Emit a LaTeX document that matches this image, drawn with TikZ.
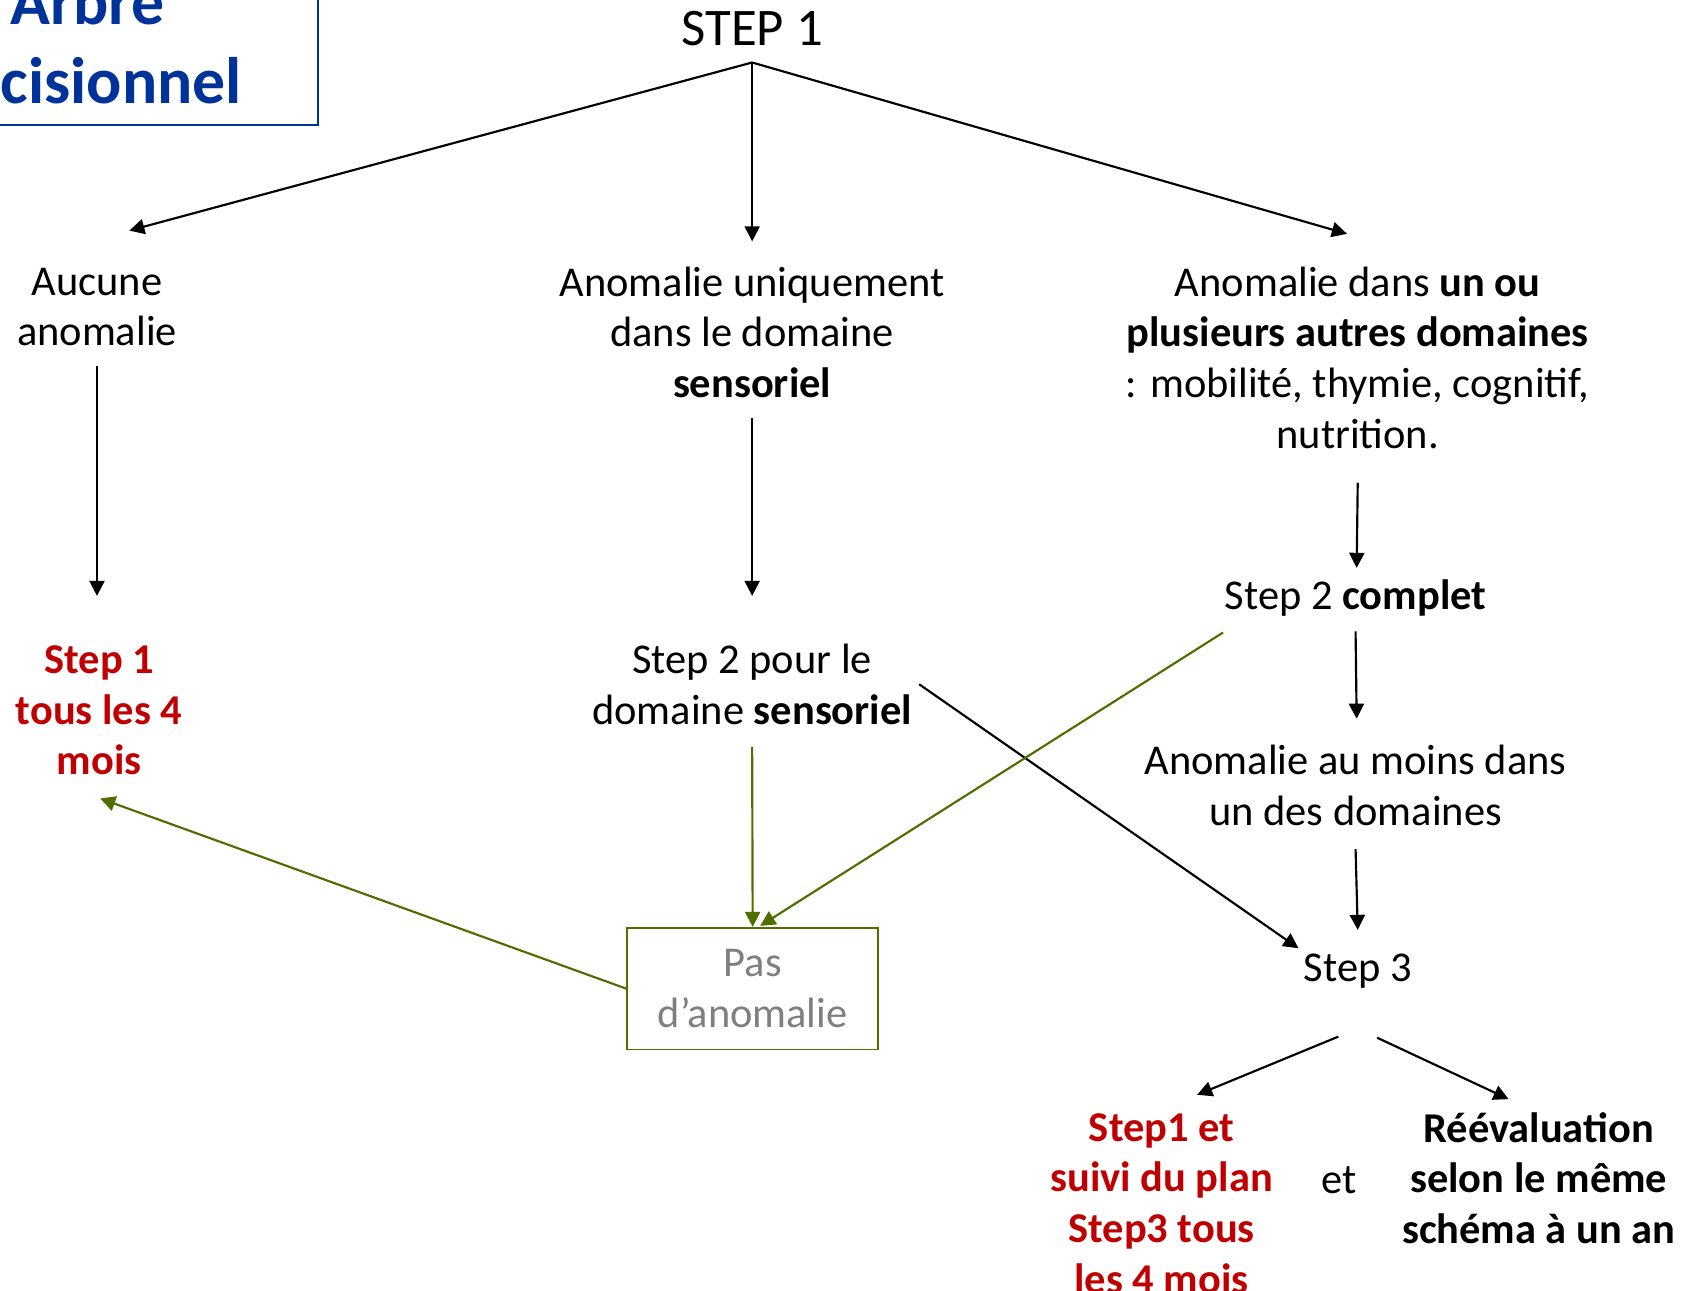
\documentclass[tikz,border=0pt]{standalone}
\usepackage{fontspec}
\setmainfont{Carlito}
\usetikzlibrary{arrows.meta,calc}
\definecolor{stepred}{RGB}{192,0,0}
\definecolor{titleblue}{RGB}{0,51,153}
\definecolor{pasgreen}{RGB}{79,110,0}
\definecolor{pasgray}{RGB}{127,127,127}
\begin{document}
\begin{tikzpicture}[x=0.5pt,y=-0.5pt,
  txt/.style={font=\fontsize{19.7}{23.5}\selectfont, align=center, inner sep=0pt, anchor=base},
  redtxt/.style={text=stepred, font=\fontsize{19.7}{23.5}\selectfont\bfseries},
  boldtxt/.style={font=\fontsize{19.7}{23.5}\selectfont\bfseries},
  titlebox/.style={draw=titleblue, line width=0.8pt, text=titleblue, align=center,
    font=\fontsize{30.5}{36.5}\selectfont\bfseries, minimum width=214pt, minimum height=78pt, inner sep=0pt},
  pasbox/.style={draw=pasgreen, line width=0.8pt, text=pasgray, align=center,
    font=\fontsize{19.7}{23.5}\selectfont, minimum width=116.5pt, minimum height=56.5pt, inner sep=0pt},
  arr/.style={draw=black, line width=1pt, -{Triangle[width=7pt,length=7pt]}},
  garr/.style={draw=pasgreen, line width=1pt, -{Triangle[width=7pt,length=7pt]}},
]
\useasboundingbox (0,0) rectangle (1560,1198);
\clip (0,0) rectangle (1560,1198);

\node[titlebox] (titre) at (81,38) {Arbre\\décisionnel};

% anchor=base is the baseline of the LAST line
\node[txt, font=\fontsize{24.5}{30}\selectfont] (s1) at (698,42) {STEP 1};
\node[txt] (aucune) at (90,321) {Aucune\\anomalie};
\node[txt] (sens) at (698,369) {Anomalie uniquement\\dans le domaine\\\textbf{sensoriel}};
\node[txt] (autres) at (1260,416) {Anomalie dans \textbf{un ou}\\\textbf{plusieurs autres domaines}\\: mobilité, thymie, cognitif,\\nutrition.};
\node[txt, redtxt] (st1) at (92,719) {Step 1\\tous les 4\\mois};
\node[txt] (st2s) at (698,672) {Step 2 pour le\\domaine \textbf{sensoriel}};
\node[txt] (st2c) at (1258,566) {Step 2 \textbf{complet}};
\node[txt] (anom) at (1258,766) {Anomalie au moins dans\\un des domaines};
\node[txt] (st3) at (1260,911) {Step 3};
\node[pasbox] (pas) at (698.5,917.5) {Pas\\d’anomalie};
\node[txt, redtxt] (suivi) at (1078,1200) {Step1 et\\suivi du plan\\Step3 tous\\les 4 mois};
\node[txt] (et) at (1243,1108) {et};
\node[txt, boldtxt] (reeval) at (1428,1154) {Réévaluation\\selon le même\\schéma à un an};

% from STEP 1
\draw[arr] ($(s1.base)+(0,16)$) -- ($(aucune.base)+(30,-107)$);
\draw[arr] ($(s1.base)+(0,16)$) -- ($(sens.base)+(0,-145)$);
\draw[arr] ($(s1.base)+(0,16)$) -- ($(autres.base)+(-10,-199)$);

% verticals
\draw[arr] ($(aucune.base)+(0,19)$) -- ($(st1.base)+(-2,-166)$);
\draw[arr] ($(sens.base)+(0,19)$) -- ($(st2s.base)+(0,-119)$);
\draw[arr] ($(autres.base)+(0,32)$) -- ($(st2c.base)+(1,-39)$);
\draw[arr] ($(st2c.base)+(0,20)$) -- ($(anom.base)+(1,-99)$);
\draw[arr] ($(anom.base)+(0,22)$) -- ($(st3.base)+(0,-48)$);
\draw[arr] ($(st2s.base)+(155,-37)$) -- ($(st3.base)+(-55,-31)$);

% green
\draw[garr] ($(st2s.base)+(0,21)$) -- (pas.north);
\draw[garr] ($(st2c.base)+(-123,21)$) -- ($(pas.north)+(7,-1)$);
\draw[garr] (pas.west) -- ($(st1.base)+(1,22)$);

% step 3
\draw[arr] ($(st3.base)+(-18,51)$) -- ($(suivi.base)+(33,-184)$);
\draw[arr] ($(st3.base)+(18,52)$) -- ($(reeval.base)+(-28,-134)$);
\end{tikzpicture}
\end{document}
